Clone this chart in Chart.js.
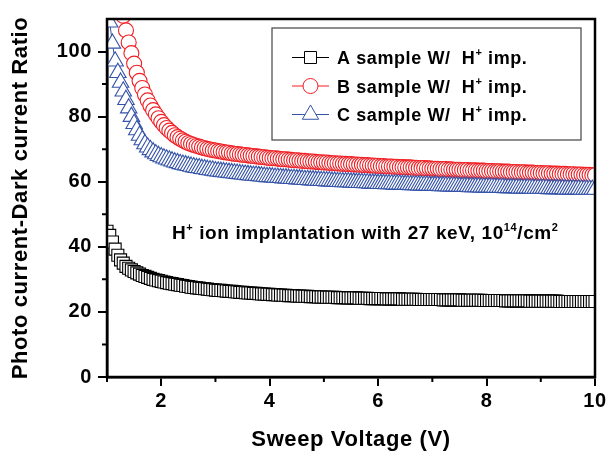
<!DOCTYPE html>
<html>
<head>
<meta charset="utf-8">
<script src="https://cdn.jsdelivr.net/npm/chart.js@4.4.0/dist/chart.umd.min.js"></script>
<style>
  html, body { margin: 0; padding: 0; background: #fff; }
  #wrap { width: 614px; height: 456px; }
</style>
</head>
<body>
<div id="wrap"><canvas id="chart" width="614" height="456"></canvas></div>
<script>
"use strict"

// sweep voltage (V), one reading every 0.05 V
const voltage = [
  1.00, 1.05, 1.10, 1.15, 1.20, 1.25, 1.30, 1.35, 1.40, 1.45, 1.50, 1.55, 1.60, 1.65, 1.70, 1.75, 1.80, 1.85, 1.90, 1.95,
  2.00, 2.05, 2.10, 2.15, 2.20, 2.25, 2.30, 2.35, 2.40, 2.45, 2.50, 2.55, 2.60, 2.65, 2.70, 2.75, 2.80, 2.85, 2.90, 2.95,
  3.00, 3.05, 3.10, 3.15, 3.20, 3.25, 3.30, 3.35, 3.40, 3.45, 3.50, 3.55, 3.60, 3.65, 3.70, 3.75, 3.80, 3.85, 3.90, 3.95,
  4.00, 4.05, 4.10, 4.15, 4.20, 4.25, 4.30, 4.35, 4.40, 4.45, 4.50, 4.55, 4.60, 4.65, 4.70, 4.75, 4.80, 4.85, 4.90, 4.95,
  5.00, 5.05, 5.10, 5.15, 5.20, 5.25, 5.30, 5.35, 5.40, 5.45, 5.50, 5.55, 5.60, 5.65, 5.70, 5.75, 5.80, 5.85, 5.90, 5.95,
  6.00, 6.05, 6.10, 6.15, 6.20, 6.25, 6.30, 6.35, 6.40, 6.45, 6.50, 6.55, 6.60, 6.65, 6.70, 6.75, 6.80, 6.85, 6.90, 6.95,
  7.00, 7.05, 7.10, 7.15, 7.20, 7.25, 7.30, 7.35, 7.40, 7.45, 7.50, 7.55, 7.60, 7.65, 7.70, 7.75, 7.80, 7.85, 7.90, 7.95,
  8.00, 8.05, 8.10, 8.15, 8.20, 8.25, 8.30, 8.35, 8.40, 8.45, 8.50, 8.55, 8.60, 8.65, 8.70, 8.75, 8.80, 8.85, 8.90, 8.95,
  9.00, 9.05, 9.10, 9.15, 9.20, 9.25, 9.30, 9.35, 9.40, 9.45, 9.50, 9.55, 9.60, 9.65, 9.70, 9.75, 9.80, 9.85, 9.90, 9.95,
  10.00
];

const sampleA = [
  44.8, 43.5, 41.5, 39.3, 37.4, 36.0, 35.0, 34.0, 33.4, 32.9, 32.4, 32.0, 31.6, 31.2, 30.9, 30.6, 30.3, 30.0, 29.8, 29.6,
  29.4, 29.2, 29.0, 28.8, 28.7, 28.5, 28.4, 28.2, 28.1, 27.9, 27.8, 27.6, 27.5, 27.4, 27.3, 27.2, 27.1, 27.0, 26.9, 26.8,
  26.7, 26.6, 26.6, 26.5, 26.4, 26.3, 26.3, 26.2, 26.1, 26.0, 26.0, 25.9, 25.8, 25.8, 25.7, 25.7, 25.6, 25.5, 25.5, 25.4,
  25.4, 25.3, 25.3, 25.2, 25.2, 25.1, 25.1, 25.0, 25.0, 25.0, 24.9, 24.9, 24.8, 24.8, 24.8, 24.7, 24.7, 24.7, 24.6, 24.6,
  24.6, 24.5, 24.5, 24.5, 24.5, 24.4, 24.4, 24.4, 24.4, 24.3, 24.3, 24.3, 24.3, 24.2, 24.2, 24.2, 24.2, 24.1, 24.1, 24.1,
  24.1, 24.1, 24.1, 24.0, 24.0, 24.0, 24.0, 24.0, 24.0, 23.9, 23.9, 23.9, 23.9, 23.9, 23.9, 23.8, 23.8, 23.8, 23.8, 23.8,
  23.8, 23.8, 23.8, 23.8, 23.7, 23.7, 23.7, 23.7, 23.7, 23.7, 23.7, 23.6, 23.6, 23.6, 23.6, 23.6, 23.6, 23.6, 23.6, 23.5,
  23.5, 23.5, 23.5, 23.5, 23.5, 23.5, 23.5, 23.4, 23.4, 23.4, 23.4, 23.4, 23.4, 23.4, 23.4, 23.4, 23.3, 23.3, 23.3, 23.3,
  23.3, 23.3, 23.3, 23.3, 23.3, 23.3, 23.3, 23.2, 23.2, 23.2, 23.2, 23.2, 23.2, 23.2, 23.2, 23.2, 23.2, 23.2, 23.2, 23.2,
  23.2
];

const sampleB = [
  150, 140, 132, 125, 119.5, 115, 111, 106.5, 102.8, 99.5, 96.3, 93.5, 91.0, 88.8, 86.8, 85.0, 83.4, 82.0, 80.7, 79.5,
  78.4, 77.4, 76.5, 75.7, 75.0, 74.3, 73.7, 73.2, 72.7, 72.3, 71.9, 71.6, 71.3, 71.0, 70.8, 70.5, 70.3, 70.1, 69.9, 69.7,
  69.6, 69.4, 69.3, 69.1, 69.0, 68.9, 68.7, 68.6, 68.5, 68.4, 68.3, 68.2, 68.1, 68.0, 67.9, 67.8, 67.7, 67.6, 67.5, 67.4,
  67.3, 67.2, 67.2, 67.1, 67.0, 66.9, 66.9, 66.8, 66.7, 66.6, 66.6, 66.5, 66.4, 66.4, 66.3, 66.2, 66.2, 66.1, 66.0, 66.0,
  65.9, 65.9, 65.8, 65.7, 65.7, 65.6, 65.6, 65.5, 65.5, 65.4, 65.4, 65.3, 65.3, 65.2, 65.2, 65.1, 65.1, 65.0, 65.0, 64.9,
  64.9, 64.8, 64.8, 64.7, 64.7, 64.7, 64.6, 64.6, 64.5, 64.5, 64.4, 64.4, 64.4, 64.3, 64.3, 64.2, 64.2, 64.2, 64.1, 64.1,
  64.0, 64.0, 64.0, 63.9, 63.9, 63.9, 63.8, 63.8, 63.7, 63.7, 63.7, 63.6, 63.6, 63.6, 63.5, 63.5, 63.5, 63.4, 63.4, 63.4,
  63.3, 63.3, 63.3, 63.2, 63.2, 63.2, 63.1, 63.1, 63.1, 63.0, 63.0, 63.0, 62.9, 62.9, 62.9, 62.8, 62.8, 62.8, 62.7, 62.7,
  62.7, 62.6, 62.6, 62.6, 62.5, 62.5, 62.5, 62.4, 62.4, 62.4, 62.3, 62.3, 62.3, 62.2, 62.2, 62.2, 62.1, 62.1, 62.1, 62.0,
  62.0
];

const sampleC = [
  116, 109, 102.5, 97.0, 93.5, 90.5, 87.8, 85.2, 82.6, 80.0, 77.8, 75.9, 74.2, 72.8, 71.6, 70.6, 69.8, 69.1, 68.5, 68.0,
  67.6, 67.2, 66.9, 66.6, 66.3, 66.0, 65.8, 65.5, 65.3, 65.1, 64.9, 64.7, 64.5, 64.3, 64.2, 64.0, 63.9, 63.7, 63.6, 63.5,
  63.3, 63.2, 63.1, 63.0, 62.9, 62.8, 62.7, 62.6, 62.5, 62.4, 62.3, 62.2, 62.1, 62.0, 61.9, 61.9, 61.8, 61.7, 61.6, 61.5,
  61.5, 61.4, 61.3, 61.3, 61.2, 61.1, 61.1, 61.0, 60.9, 60.9, 60.8, 60.8, 60.7, 60.6, 60.6, 60.5, 60.5, 60.4, 60.4, 60.3,
  60.3, 60.2, 60.2, 60.1, 60.1, 60.0, 60.0, 59.9, 59.9, 59.9, 59.8, 59.8, 59.7, 59.7, 59.7, 59.6, 59.6, 59.5, 59.5, 59.5,
  59.4, 59.4, 59.4, 59.3, 59.3, 59.3, 59.2, 59.2, 59.2, 59.1, 59.1, 59.1, 59.0, 59.0, 59.0, 58.9, 58.9, 58.9, 58.9, 58.8,
  58.8, 58.8, 58.8, 58.7, 58.7, 58.7, 58.6, 58.6, 58.6, 58.6, 58.5, 58.5, 58.5, 58.5, 58.4, 58.4, 58.4, 58.4, 58.3, 58.3,
  58.3, 58.3, 58.3, 58.2, 58.2, 58.2, 58.2, 58.1, 58.1, 58.1, 58.1, 58.1, 58.0, 58.0, 58.0, 58.0, 58.0, 57.9, 57.9, 57.9,
  57.9, 57.9, 57.9, 57.8, 57.8, 57.8, 57.8, 57.8, 57.8, 57.7, 57.7, 57.7, 57.7, 57.7, 57.7, 57.6, 57.6, 57.6, 57.6, 57.6,
  57.6
];

const seriesNames = ['A sample W/  H^{+} imp.', 'B sample W/  H^{+} imp.', 'C sample W/  H^{+} imp.'];
const noteText = 'H^{+} ion implantation with 27 keV, 10^{14}/cm^{2}';

const FONT = '"Liberation Sans", Arial, sans-serif';
const colors = ['#000000', '#f01e23', '#3553a8'];
const styles = ['rect', 'circle', 'triangle'];
const radii = [8.5, 7.5, 9.5];

function points(ys) {
  return voltage.map((v, i) => ({x: v, y: ys[i]}));
}

// "^{...}" marks a superscript
function drawRich(ctx, str, x, y, size) {
  str.split(/\^\{([^}]*)\}/).forEach((part, i) => {
    let sup = i % 2 === 1;
    ctx.font = `bold ${sup ? Math.round(size * 0.6) : size}px ${FONT}`;
    ctx.fillText(part, x, sup ? y - size * 0.42 : y);
    x += ctx.measureText(part).width;
  });
}

function drawMarker(ctx, style, x, y, color) {
  ctx.beginPath();
  if (style === 'rect') {
    ctx.rect(x - 6, y - 6, 12, 12);
  } else if (style === 'circle') {
    ctx.arc(x, y, 7.5, 0, Math.PI * 2);
  } else {
    ctx.moveTo(x, y - 9.5);
    ctx.lineTo(x + 8.2, y + 4.75);
    ctx.lineTo(x - 8.2, y + 4.75);
    ctx.closePath();
  }
  ctx.fillStyle = '#fff';
  ctx.fill();
  ctx.strokeStyle = color;
  ctx.lineWidth = 1;
  ctx.stroke();
}

const isMajor = (axis, v) => (axis === 'x' ? v % 2 === 0 : v % 20 === 0);

const spacing = {
  id: 'spacing',
  beforeUpdate(chart) { chart.ctx.letterSpacing = '0.6px'; },
  beforeDraw(chart) { chart.ctx.letterSpacing = '0.6px'; }
};

const frameAndLegend = {
  id: 'frameAndLegend',
  afterDraw(chart) {
    const ctx = chart.ctx;
    const ca = chart.chartArea;
    ctx.save();

    // short minor ticks
    ctx.strokeStyle = '#000';
    ctx.lineWidth = 2;
    ctx.beginPath();
    chart.scales.x.ticks.forEach(t => {
      if (isMajor('x', t.value)) return;
      let px = chart.scales.x.getPixelForValue(t.value);
      ctx.moveTo(px, ca.bottom);
      ctx.lineTo(px, ca.bottom + 5);
    });
    chart.scales.y.ticks.forEach(t => {
      if (isMajor('y', t.value)) return;
      let py = chart.scales.y.getPixelForValue(t.value);
      ctx.moveTo(ca.left, py);
      ctx.lineTo(ca.left - 5, py);
    });
    ctx.stroke();

    // frame
    ctx.lineWidth = 2.5;
    ctx.strokeRect(ca.left, ca.top, ca.right - ca.left, ca.bottom - ca.top);

    // legend box
    ctx.fillStyle = '#fff';
    ctx.fillRect(272, 28, 309, 112);
    ctx.strokeStyle = '#444';
    ctx.lineWidth = 1.2;
    ctx.strokeRect(272, 28, 309, 112);

    const rows = [57.5, 86, 114.5];
    seriesNames.forEach((name, i) => {
      let y = rows[i];
      ctx.strokeStyle = colors[i];
      ctx.lineWidth = 1;
      ctx.beginPath();
      ctx.moveTo(292, y);
      ctx.lineTo(329, y);
      ctx.stroke();
      drawMarker(ctx, styles[i], 310.5, y, colors[i]);
      ctx.fillStyle = '#000';
      ctx.textBaseline = 'alphabetic';
      drawRich(ctx, name, 337, y + 6.5, 18);
    });

    // note
    ctx.fillStyle = '#000';
    drawRich(ctx, noteText, 172, 238.5, 19);
    ctx.restore();
  }
};

const tickFont = {family: FONT, size: 20, weight: 'bold'};
const titleFont = {family: FONT, size: 22, weight: 'bold'};

function axisGrid(axis) {
  return {
    drawOnChartArea: false,
    drawTicks: true,
    tickLength: 9,
    color: '#000',
    lineWidth: 2,
    tickColor: c => (c.tick && isMajor(axis, c.tick.value) ? '#000' : 'rgba(0,0,0,0)')
  };
}

new Chart(document.getElementById('chart'), {
  type: 'line',
  data: {
    datasets: [sampleA, sampleB, sampleC].map((ys, i) => ({
      label: seriesNames[i],
      data: points(ys),
      borderColor: colors[i],
      borderWidth: 1,
      pointStyle: styles[i],
      pointRadius: radii[i],
      pointBorderWidth: 1.1,
      pointBorderColor: colors[i],
      pointBackgroundColor: '#fff',
      tension: 0,
      order: 2 - i
    }))
  },
  options: {
    responsive: false,
    devicePixelRatio: 1,
    animation: false,
    layout: {padding: {top: 19, right: 19, left: 0, bottom: 0}},
    plugins: {legend: {display: false}, tooltip: {enabled: false}},
    scales: {
      x: {
        type: 'linear',
        min: 1,
        max: 10,
        ticks: {
          stepSize: 1,
          color: '#000',
          font: tickFont,
          padding: 3,
          maxRotation: 0,
          callback: v => (isMajor('x', v) ? v : '')
        },
        grid: axisGrid('x'),
        border: {display: true, color: '#000', width: 2.5},
        title: {
          display: true,
          text: 'Sweep Voltage (V)',
          color: '#000',
          font: titleFont,
          padding: {top: 0, bottom: 3}
        },
        afterFit: scale => { scale.height = 79; }
      },
      y: {
        min: 0,
        max: 110,
        afterBuildTicks: scale => { scale.ticks = scale.ticks.filter(t => t.value <= 100); },
        ticks: {
          stepSize: 10,
          color: '#000',
          font: tickFont,
          padding: 6,
          callback: v => (isMajor('y', v) ? v : '')
        },
        grid: axisGrid('y'),
        border: {display: true, color: '#000', width: 2.5},
        title: {
          display: true,
          text: 'Photo current-Dark current Ratio',
          color: '#000',
          font: titleFont,
          padding: {top: 8, bottom: 0}
        },
        afterFit: scale => { scale.width = 107; }
      }
    }
  },
  plugins: [spacing, frameAndLegend]
});
</script>
</body>
</html>
